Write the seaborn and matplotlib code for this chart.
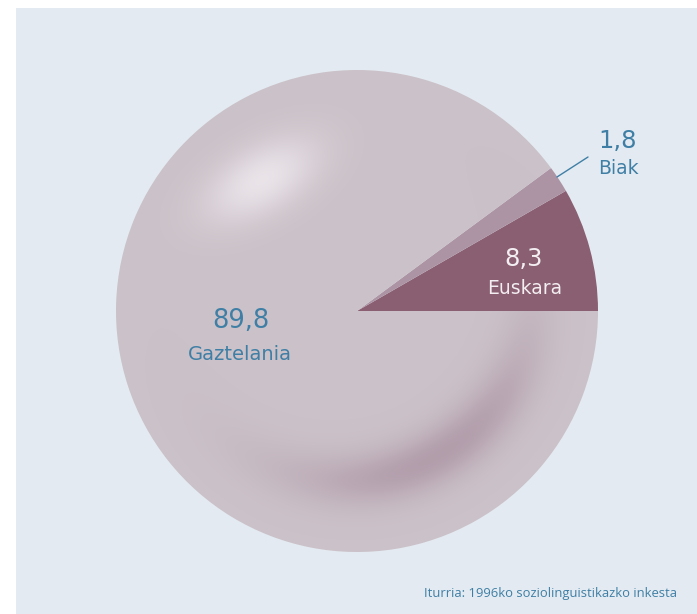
import numpy as np
import matplotlib
matplotlib.use("Agg")
import matplotlib.pyplot as plt
from matplotlib.patches import Rectangle
import seaborn as sns

# ---- data ----
categories = ["Euskara", "Biak", "Gaztelania"]
values = [8.3, 1.8, 89.8]
value_labels = ["8,3", "1,8", "89,8"]
source = "Iturria: 1996ko soziolinguistikazko inkesta"

sns.set_theme(style="white")
plt.rcParams["font.family"] = ["DejaVu Sans"]

W, H = 697, 614
fig = plt.figure(figsize=(W / 100, H / 100), dpi=100, facecolor="white")
ax = fig.add_axes([0, 0, 1, 1])

def py(y):  # pixel-y (top-down) to data-y
    return H - y

# panel background
ax.add_patch(Rectangle((16, 0), W - 16, H - 8, facecolor="#e3eaf1", edgecolor="none", zorder=0))

colors = ["#8a5f72", "#ad94a4", "#cbc1c8"]
cx, cy, R = 357, py(311), 241
wedges, _ = ax.pie(values, colors=colors, startangle=0, counterclock=True,
                   center=(cx, cy), radius=R, wedgeprops=dict(linewidth=0))
for w in wedges:
    w.set_zorder(1)

# shading (highlight + shadow) clipped to the large slice
xx, yy = np.meshgrid(np.arange(W) + 0.5, np.arange(H) + 0.5)
rgba = np.zeros((H, W, 4))
# highlight ellipse
hx, hy, ang = 262, 180, np.deg2rad(-30)
dx, dy = xx - hx, yy - hy
u = dx * np.cos(ang) + dy * np.sin(ang)
v = -dx * np.sin(ang) + dy * np.cos(ang)
a_h = 0.85 * np.exp(-0.5 * ((u / 44) ** 2 + (v / 23) ** 2))
# shadow band
sx, sy, sr = 345, 292, 188
d = np.hypot(xx - sx, yy - sy)
th = np.degrees(np.arctan2(yy - sy, xx - sx))
a_s = 0.9 * np.exp(-0.5 * ((d - sr) / 19) ** 2) * np.exp(-0.5 * ((th - 60) / 33) ** 2)
hc = np.array([0.94, 0.92, 0.94])
sc = np.array([0.69, 0.60, 0.66])
alpha = a_h + a_s * (1 - a_h)
col = (hc * a_h[..., None] + sc * (a_s * (1 - a_h))[..., None]) / np.maximum(alpha, 1e-6)[..., None]
rgba[..., :3] = col
rgba[..., 3] = np.clip(alpha, 0, 1)
im = ax.imshow(rgba, extent=(0, W, 0, H), origin="upper", zorder=2, interpolation="bilinear")
im.set_clip_path(wedges[2])

blue = "#3f7fa5"
light = "#f3eef1"
# labels
ax.text(524, py(259), value_labels[0], color=light, fontsize=17.5, ha="center", va="center", zorder=3)
ax.text(525, py(288), categories[0], color=light, fontsize=13.5, ha="center", va="center", zorder=3)
ax.text(618, py(141), value_labels[1], color=blue, fontsize=17.5, ha="center", va="center", zorder=3)
ax.text(618, py(169), categories[1], color=blue, fontsize=13.5, ha="center", va="center", zorder=3)
ax.text(241, py(321), value_labels[2], color=blue, fontsize=18.5, ha="center", va="center", zorder=3)
ax.text(240, py(355), categories[2], color=blue, fontsize=14, ha="center", va="center", zorder=3)
ax.plot([557, 588], [py(177), py(157)], color=blue, lw=1, zorder=3)

ax.text(677, py(593), source, color=blue, fontsize=9.4, ha="right", va="center",
        family=["Open Sans", "DejaVu Sans"], zorder=3)

ax.set_xlim(0, W)
ax.set_ylim(0, H)
ax.set_aspect("auto")
ax.axis("off")

fig.savefig("out.png", dpi=100, facecolor="white")
